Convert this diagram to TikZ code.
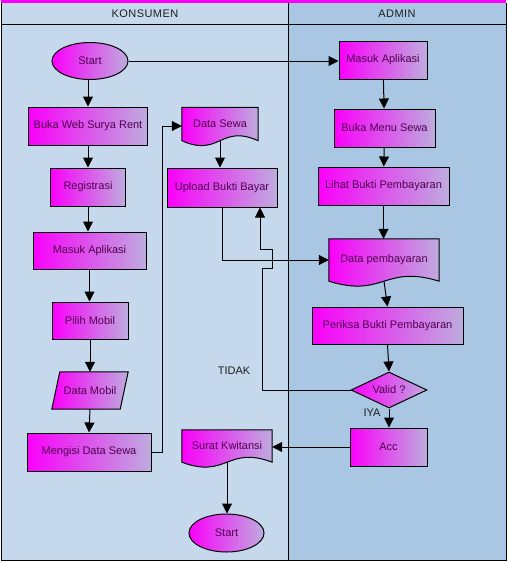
\documentclass[tikz,border=0pt]{standalone}
\usepackage{fontspec}
\setmainfont{Liberation Sans}
\usetikzlibrary{arrows.meta,shapes.geometric,calc}
\definecolor{laneL}{RGB}{198,217,236}
\definecolor{laneR}{RGB}{169,199,226}
\definecolor{mag}{RGB}{250,0,250}
\definecolor{lav}{RGB}{190,172,222}
\definecolor{txt}{RGB}{80,0,80}
\definecolor{hdr}{RGB}{30,30,30}
\pgfdeclarelayer{lanes}
\pgfdeclarelayer{shapes}
\pgfsetlayers{lanes,shapes,main}
\newcommand\docshape[1]{\path[flowfill] (#1.north west) -- (#1.north east) -- (#1.south east) .. controls ($(#1.south)+(0,-17)$) and ($(#1.south)+(0,17)$) .. (#1.south west) -- cycle;}
\newcommand\parashape[1]{\path[flowfill] ($(#1.north west)+(8,0)$) -- (#1.north east) -- ($(#1.south east)+(-8,0)$) -- (#1.south west) -- cycle;}
\begin{document}
\begin{tikzpicture}[x=1pt,y=-1pt,
  font=\fontsize{11}{13}\selectfont,
  flowfill/.style={draw=black, line width=1pt, left color=mag, right color=lav},
  flow/.style={flowfill, text=txt, inner sep=0pt, align=center},
  proc/.style={flow, rectangle},
  term/.style={flow, ellipse},
  decis/.style={flow, diamond, aspect=2.1},
  docbox/.style={rectangle, draw=none, text=txt, inner sep=0pt},
  conn/.style={line width=1pt, -{Triangle[length=10pt,width=10pt]}},
  plain/.style={line width=1pt},
  lbl/.style={text=hdr}
]
\useasboundingbox (0,0) rectangle (510,563);
\begin{pgfonlayer}{lanes}
\fill[white] (0,0) rectangle (510,563);
\fill[laneL] (1,3) rectangle (288,560);
\fill[laneR] (288,3) rectangle (506,560);
\fill[mag] (1,0) rectangle (506,3);
\draw[line width=1pt] (1,3) -- (1,560) -- (506,560) -- (506,3);
\draw[line width=1pt] (1,24) -- (506,24);
\draw[line width=1pt] (288,3) -- (288,560);
\end{pgfonlayer}
\node[lbl] (hk) at (145,14) {\addfontfeature{LetterSpace=4}KONSUMEN};
\node[lbl] (ha) at (397,14) {\addfontfeature{LetterSpace=4}ADMIN};

% Konsumen lane
\node[term, minimum width=76, minimum height=37] (st) at (90,61) {Start};
\node[proc, minimum width=119, minimum height=38] (bw) at (88,126) {Buka Web Surya Rent};
\node[proc, minimum width=75, minimum height=38] (reg) at (88,187) {Registrasi};
\node[proc, minimum width=113, minimum height=37] (mal) at (89.5,250.5) {Masuk Aplikasi};
\node[proc, minimum width=76, minimum height=37] (pm) at (90,320.5) {Pilih Mobil};
\node[docbox, minimum width=76, minimum height=37] (dm) at (90,390.5) {Data Mobil};
\node[proc, minimum width=124, minimum height=38] (md) at (89,452) {Mengisi Data Sewa};
\node[docbox, minimum width=76, minimum height=33] (ds) at (220,124) {Data Sewa};
\node[proc, minimum width=110, minimum height=39] (up) at (222,187.5) {Upload Bukti Bayar};
\node[docbox, minimum width=90, minimum height=32] (sk) at (227,446) {Surat Kwitansi};
\node[term, minimum width=75, minimum height=38] (st2) at (226.5,533) {Start};

% Admin lane
\node[proc, minimum width=88, minimum height=38] (ma) at (383,60) {Masuk Aplikasi};
\node[proc, minimum width=101, minimum height=38] (bms) at (384.5,128) {Buka Menu Sewa};
\node[proc, minimum width=131, minimum height=38] (lb) at (383.5,186) {Lihat Bukti Pembayaran};
\node[docbox, minimum width=110, minimum height=42] (dp) at (384,260) {Data pembayaran};
\node[proc, minimum width=151, minimum height=37] (pb) at (387.5,325.5) {Periksa Bukti Pembayaran};
\node[decis, minimum width=76, minimum height=36] (va) at (389,390) {Valid ?};
\node[proc, minimum width=77, minimum height=38] (acc) at (388.5,447) {Acc};

\begin{pgfonlayer}{shapes}
\docshape{ds}
\docshape{sk}
\docshape{dp}
\parashape{dm}
\end{pgfonlayer}

% labels
\node[lbl] (tidak) at (234,371) {TIDAK};
\node[lbl] (iya) at (372,413) {IYA};

% connectors
\coordinate (m1) at (162,126);
\coordinate (t1) at (262,268);
\coordinate (t2) at (272,268);
\coordinate (t3) at (272,249);
\coordinate (t4) at (260,249);

\draw[conn] (st) -- (st -| ma.west);
\draw[conn] (st.south -| bw) -- (bw.north);
\draw[conn] (bw) -- (reg);
\draw[conn] (reg.south) -- (reg.south |- mal.north);
\draw[conn] (mal.south) -- (mal.south |- pm.north);
\draw[conn] (pm.south) -- (pm.south |- dm.north);
\draw[conn] (dm.south) -- (md.north);
\draw[conn] (md.east) -| (m1) -- (m1 -| ds.west);
\draw[conn] (ds.south) -- (ds.south |- up.north);
\draw[conn] (up.south) |- (dp.west);
\draw[conn] (ma) -- (bms);
\draw[conn] (bms) -- (lb);
\draw[conn] (lb.south) -- (lb.south |- dp.north);
\draw[conn] (dp.south) -- (pb.north);
\draw[conn] (pb.south) -- (va.north);
\draw[conn] (va.west) -| (t1) -- (t2) -- (t3) -- (t4) -- (t4 |- up.south);
\draw[conn] (va.south) -- (va.south |- acc.north);
\draw[conn] (acc.west) -- (acc.west -| sk.east);
\draw[conn] (sk.south) -- (sk.south |- st2.north);
\end{tikzpicture}
\end{document}
